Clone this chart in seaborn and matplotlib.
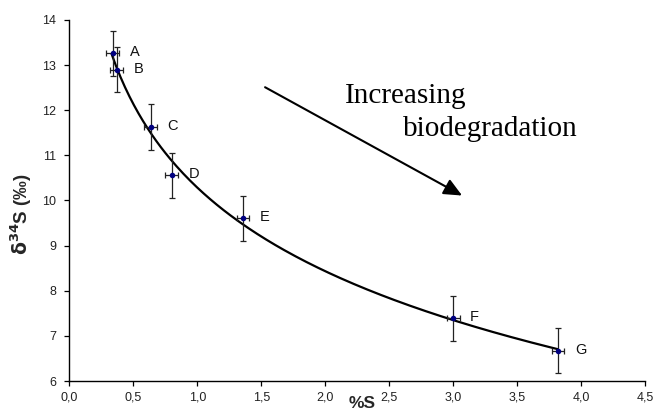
import numpy as np
import pandas as pd
import matplotlib
matplotlib.use("Agg")
import matplotlib.pyplot as plt
import seaborn as sns

# Data
sample_labels = ["A", "B", "C", "D", "E", "F", "G"]
pct_s = [0.34, 0.37, 0.636, 0.80, 1.357, 3.00, 3.82]
d34s = [13.26, 12.90, 11.63, 10.56, 9.61, 7.39, 6.67]
x_err = [0.05, 0.05, 0.05, 0.05, 0.05, 0.05, 0.05]
y_err = [0.5, 0.5, 0.5, 0.5, 0.5, 0.5, 0.5]
x_ticks = [0.0, 0.5, 1.0, 1.5, 2.0, 2.5, 3.0, 3.5, 4.0, 4.5]
x_tick_labels = ["0,0", "0,5", "1,0", "1,5", "2,0", "2,5", "3,0", "3,5", "4,0", "4,5"]
y_ticks = [6, 7, 8, 9, 10, 11, 12, 13, 14]

df = pd.DataFrame({"pct_s": pct_s, "d34s": d34s, "label": sample_labels})

# Logarithmic trend line fitted to the data
coef = np.polyfit(np.log(df["pct_s"]), df["d34s"], 1)
x_fit = np.linspace(0.33, 3.82, 200)
fit_df = pd.DataFrame({"x": x_fit, "y": np.polyval(coef, np.log(x_fit))})

sns.set_style("ticks")
plt.rcParams["font.family"] = ["Liberation Sans", "DejaVu Sans"]

fig = plt.figure(figsize=(6.59, 4.12), dpi=100)
ax = fig.add_axes([0.1052, 0.0752, 0.8736, 0.8763])

sns.lineplot(data=fit_df, x="x", y="y", ax=ax, color="black", linewidth=1.6, zorder=2)
ax.errorbar(df["pct_s"], df["d34s"], xerr=x_err, yerr=y_err, fmt="none",
            ecolor="#222222", elinewidth=0.9, capsize=2.3, capthick=0.9, zorder=3)
sns.scatterplot(data=df, x="pct_s", y="d34s", ax=ax, color="#000080", s=16,
                edgecolor="#000080", linewidth=0, zorder=4)

for xv, yv, lab in zip(df["pct_s"], df["d34s"], df["label"]):
    ax.annotate(lab, (xv, yv), xytext=(17, 1), textcoords="offset pixels",
                fontsize=10.5, va="center", ha="left", color="#111111")

ax.annotate("", xy=(3.07, 10.11), xytext=(1.53, 12.51),
            arrowprops=dict(arrowstyle="-|>,head_length=1.1,head_width=0.5",
                            color="black", lw=1.5, shrinkA=0, shrinkB=0))
ax.text(2.154, 12.16, "Increasing", family=["Liberation Serif"], fontsize=21,
        ha="left", va="baseline", color="black")
ax.text(2.607, 11.44, "biodegradation", family=["Liberation Serif"], fontsize=21,
        ha="left", va="baseline", color="black")

ax.set_xlim(0, 4.5)
ax.set_ylim(6, 14)
ax.set_xticks(x_ticks)
ax.set_xticklabels(x_tick_labels)
ax.set_yticks(y_ticks)
ax.tick_params(axis="both", direction="out", length=3.5, width=0.9,
               labelsize=9, colors="black", labelcolor="#222222")
ax.tick_params(axis="y", pad=6)
ax.tick_params(axis="x", pad=4)
for side in ["top", "right"]:
    ax.spines[side].set_visible(False)
for side in ["left", "bottom"]:
    ax.spines[side].set_color("black")
    ax.spines[side].set_linewidth(1.0)

ax.set_xlabel("")
fig.text(0.549, 0.003, "%S", fontsize=12.5, fontweight="bold", ha="center", va="bottom")
ax.set_ylabel(r"$\mathbf{\delta^{34}}$S (‰)", fontsize=13.5, fontweight="bold")
ax.yaxis.set_label_coords(-0.061, 0.462)

fig.savefig("out.png", dpi=100)
